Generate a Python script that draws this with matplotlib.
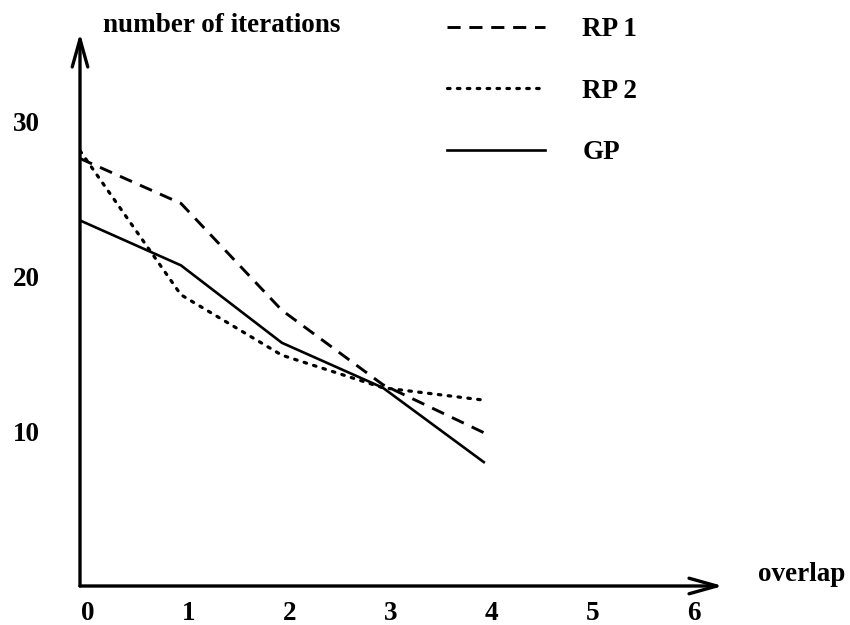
import matplotlib
matplotlib.use("Agg")
import matplotlib.pyplot as plt
from matplotlib.transforms import ScaledTranslation

# values
overlap = [0, 1, 2, 3, 4]
rp1 = [27.6, 24.7, 17.8, 13.0, 9.9]
rp2 = [28.1, 18.8, 14.9, 12.8, 12.0]
gp = [23.6, 20.7, 15.7, 12.8, 8.0]

xticks = [0, 1, 2, 3, 4, 5, 6]
yticks = [10, 20, 30]

plt.rcParams['font.family'] = ['Liberation Serif', 'DejaVu Serif']
plt.rcParams['font.weight'] = 'bold'
fs = 19.5

fig = plt.figure(figsize=(8.5, 6.25), dpi=100)
ax = fig.add_axes([80 / 850, 39 / 625, 643 / 850, 553 / 625])

ax.plot(overlap, rp1, color='black', lw=2.1, dashes=(4.5, 3), label='RP 1')
ax.plot(overlap, rp2, color='black', lw=2.3, dashes=(0.8, 2.3),
        dash_capstyle='round', label='RP 2')
ax.plot(overlap, gp, color='black', lw=1.9, label='GP')

ax.set_xlim(0, 6.37)
ax.set_ylim(0, 35.7)

for s in ax.spines.values():
    s.set_visible(False)

# axis arrows
arrow = dict(arrowstyle='->, head_length=1.0, head_width=0.28', lw=2.4,
             color='black', shrinkA=0, shrinkB=0, mutation_scale=20)
ax.annotate('', xy=(1, 0), xytext=(0, 0), xycoords='axes fraction',
            textcoords='axes fraction', arrowprops=arrow, annotation_clip=False)
ax.annotate('', xy=(0, 1), xytext=(0, 0), xycoords='axes fraction',
            textcoords='axes fraction', arrowprops=arrow, annotation_clip=False)

ax.set_xticks(xticks)
ax.set_xticklabels([str(t) for t in xticks])
ax.set_yticks(yticks)
ax.set_yticklabels([str(t) for t in yticks])
ax.tick_params(axis='x', length=0, pad=11, labelsize=fs)
ax.tick_params(axis='y', length=0, pad=29, labelsize=fs)
for lab in ax.get_xticklabels():
    lab.set_transform(lab.get_transform() + ScaledTranslation(0.08, 0, fig.dpi_scale_trans))

ax.set_xlabel('overlap', fontsize=fs, fontweight='bold')
ax.xaxis.set_label_coords(1.054, 0.02)
ax.xaxis.label.set_ha('left')
ax.xaxis.label.set_va('center')

ax.set_ylabel('number of iterations', fontsize=fs, fontweight='bold', rotation=0)
ax.yaxis.set_label_coords(0.221, 1.013)
ax.yaxis.label.set_ha('center')
ax.yaxis.label.set_va('center')

fig.legend(loc='upper left', bbox_to_anchor=(447 / 850, 1 - 17 / 625),
           frameon=False, fontsize=fs, handlelength=3.6, handletextpad=1.4,
           labelspacing=1.35, borderpad=0, borderaxespad=0)

fig.savefig('out.png', dpi=100)
